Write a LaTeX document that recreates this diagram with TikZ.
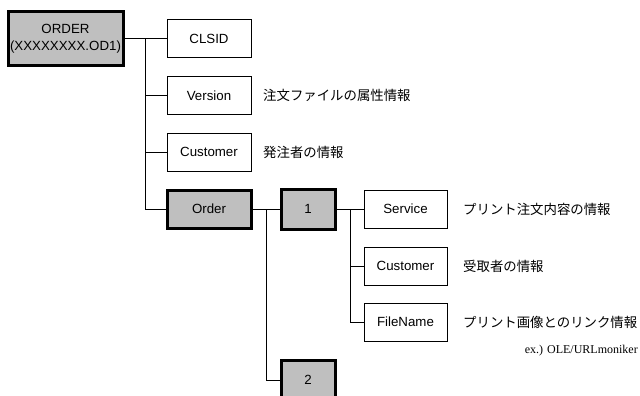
\documentclass[tikz,border=0pt]{standalone}
\usepackage{fontspec}
\setmainfont{Liberation Sans}
\newfontfamily\jpfont{Noto Sans CJK JP}
\newfontfamily\romanfont{Liberation Serif}
\usetikzlibrary{positioning,calc}

\tikzset{
  item/.style={draw=black, line width=1pt, fill=white, minimum width=84pt, minimum height=38pt, inner sep=0pt, font=\fontsize{13.3}{15}\selectfont},
  folder/.style={item, fill=black!25, line width=3pt},
  note/.style={anchor=west, inner sep=0pt, font=\jpfont\fontsize{13.4}{15}\selectfont},
  link/.style={line width=1pt}
}

\begin{document}
\begin{tikzpicture}[x=1pt, y=-1pt]
\clip (0,0) rectangle (640,396);

\node[folder, minimum width=115pt, minimum height=54pt, align=center] (order) at (65.5, 39) {ORDER\\[2pt](XXXXXXXX.OD1)};
\node[item] (clsid) at (209, 39) {CLSID};
\node[item] (version) at (209, 95.5) {Version};
\node[item] (customer) at (209, 152) {Customer};
\node[folder] (orders) at (209, 209) {Order};

\node[folder, minimum width=54pt, minimum height=40pt] (first) at (308, 209) {1};
\node[folder, minimum width=54pt, minimum height=40pt] (second) at (308, 380) {2};

\node[item, minimum width=83pt] (service) at (405.5, 209) {Service};
\node[item, minimum width=83pt] (recipient) at (405.5, 266) {Customer};
\node[item, minimum width=83pt] (filename) at (405.5, 322) {FileName};

% descriptions
\node[note] (versionnote) at (263, 95.5) {注文ファイルの属性情報};
\node[note] (customernote) at (263, 152) {発注者の情報};
\node[note] (servicenote) at (463, 209) {プリント注文内容の情報};
\node[note] (recipientnote) at (463, 266) {受取者の情報};
\node[note] (filenote) at (463, 322) {プリント画像とのリンク情報};
\node[anchor=base east, inner sep=0pt, font=\romanfont\fontsize{12}{14}\selectfont] (moniker) at (638, 353) {ex.) OLE/URLmoniker};

% tree lines
\coordinate (trunk) at ($(order.east)!0.5!(clsid.west)$);
\draw[link] (order.east) -- (clsid.west);
\draw[link] (trunk) |- (orders.west);
\draw[link] (trunk |- version) -- (version.west);
\draw[link] (trunk |- customer) -- (customer.west);

\coordinate (branch) at ($(orders.east)!0.5!(first.west)$);
\draw[link] (orders.east) -- (first.west);
\draw[link] (branch) |- (second.west);

\coordinate (leaf) at ($(first.east)!0.5!(service.west)$);
\draw[link] (first.east) -- (service.west);
\draw[link] (leaf) |- (filename.west);
\draw[link] (leaf |- recipient) -- (recipient.west);
\end{tikzpicture}
\end{document}
